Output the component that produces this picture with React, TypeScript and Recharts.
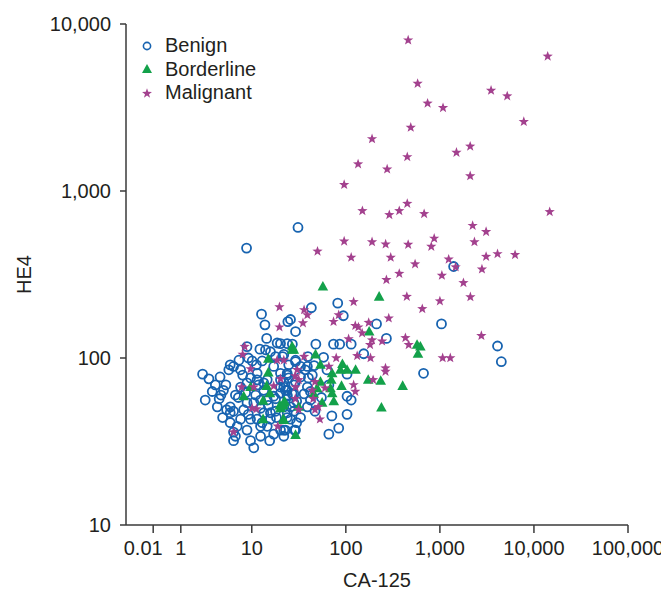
import { ScatterChart, Scatter, XAxis, YAxis, Legend } from "recharts";

// [CA-125, HE4] pairs
const benign: [number, number][] = [
  [12.7, 183], [13.8, 158], [8.9, 117], [12.2, 113], [14.4, 131], [18.6, 123], [20.2, 122], [24.2, 165],
  [25.8, 170], [29.2, 144], [23.8, 122], [7.3, 97], [6.4, 89], [10.1, 96], [12.9, 96], [15.8, 109],
  [17.9, 102], [3.0, 80], [3.5, 75], [4.6, 77], [5.9, 91], [7.6, 85], [17.1, 89], [20.2, 81],
  [23.8, 81], [29.2, 97], [5.0, 64], [4.7, 60], [4.3, 51], [4.5, 57], [5.9, 51], [6.4, 48],
  [5.9, 47], [7.6, 67], [8.9, 71], [11.4, 74], [14.6, 74], [20.2, 74], [21.9, 67], [7.0, 39],
  [8.9, 37], [9.7, 32], [10.5, 29], [6.4, 36], [6.4, 32], [6.7, 34], [12.4, 39], [14.6, 39],
  [17.1, 35], [20.2, 37], [23.8, 47], [28, 48], [25.8, 51], [5.9, 41], [9.7, 43], [11.4, 43],
  [13.4, 47], [15.8, 47], [17.9, 48], [8.2, 49], [8.9, 54], [10.5, 54], [12.4, 56], [14.6, 56],
  [17.1, 59], [20.2, 61.5], [23.8, 64], [28, 61], [23.8, 59], [28, 54], [22.8, 37], [29.2, 37],
  [11.4, 81], [11.8, 69],
  [82, 213], [94, 179], [43, 200], [212, 160], [270, 131], [114, 121], [74, 121], [86, 121],
  [48, 121], [27, 121], [155, 106], [1040, 160], [670, 81], [1400, 353], [103, 80], [58, 101],
  [39.5, 102], [29.2, 95], [39, 89], [46, 90], [63, 85], [40, 76], [44, 79], [23.8, 79],
  [24.7, 76], [66, 69], [103, 59], [114, 56], [55, 58], [42, 63], [103, 46], [71, 45],
  [84, 38], [66, 35], [30, 41], [28.5, 37], [21.9, 51], [20.2, 67], [22.8, 64], [26.9, 61],
  [4100, 118], [4500, 95],
  [21.3, 102], [33, 89], [37, 85], [29.2, 72], [33, 77], [21.9, 72], [28, 69], [23.8, 60],
  [36, 61], [39, 67], [30, 55], [39, 51], [23.8, 44], [33, 44], [21.9, 37], [21.9, 34],
  [47, 48], [42, 56], [12.4, 34],
  [8.6, 62], [11.0, 60], [9.7, 76], [13.4, 64], [15.0, 52], [9.2, 46], [7.2, 58], [5.3, 69],
  [3.8, 63], [3.2, 56], [4.9, 44], [7.6, 43], [12.9, 41], [15.8, 43], [18.3, 44],
  [11.2, 91], [9.2, 100], [14, 112], [21.9, 105], [24.7, 91], [13.4, 71], [8.0, 79], [6.7, 60],
  [5.4, 49], [12.4, 50], [17.9, 57], [25.8, 43], [15.5, 32], [4.1, 69], [5.7, 85],
  [8.8, 455], [31, 605],
];

const borderline: [number, number][] = [
  [15.0, 99], [26.9, 112], [15.0, 82], [9.7, 67], [14.4, 68], [15.6, 61.5], [8.2, 59], [13.2, 55.5],
  [19.9, 52], [21.9, 54], [20.2, 50], [13.2, 43], [21.6, 43], [29.2, 34.6], [31.6, 51],
  [57, 268], [226, 233], [177, 144], [572, 120], [620, 117], [585, 106], [26.9, 117], [28, 112],
  [47.6, 105], [92, 92], [103, 85], [87.6, 85], [127, 85], [71.5, 81], [53.7, 91], [90, 68],
  [68.6, 66], [71.5, 61.5], [173, 74], [235, 73], [402, 68], [239, 50.5], [74.4, 55], [56, 54],
  [45.6, 61], [22.3, 55], [21.6, 52], [21.9, 42.6], [49.6, 66], [53.7, 72], [70, 74],
];

const malignant: [number, number][] = [
  [460, 8000], [14000, 6400], [580, 4400], [3500, 4000], [5200, 3700], [740, 3350], [1080, 3150],
  [7800, 2600], [490, 2400], [190, 2050], [1500, 1700], [2100, 1850], [450, 1600], [135, 1450],
  [275, 1350], [2100, 1230], [96, 1090], [150, 760], [290, 720], [370, 760], [450, 840], [680, 730],
  [14700, 750], [2230, 620], [3100, 570], [96, 500], [190, 495], [265, 480], [460, 478], [870, 520],
  [810, 465], [2330, 495], [50, 435], [114, 400], [300, 400], [545, 365], [1240, 390], [3100, 405],
  [4100, 420], [6300, 415], [1470, 350], [2800, 340],
  [370, 320], [270, 294], [1050, 312], [445, 233], [121, 217], [1000, 219], [650, 197], [286, 173],
  [36, 194], [39, 181], [35, 162], [74, 165], [84, 181], [126, 156], [136, 153], [175, 163],
  [149, 141], [190, 128], [243, 126], [181, 120], [107, 130], [430, 132], [466, 120], [132, 103],
  [183, 100], [79, 100], [66, 89], [264, 87], [264, 83], [1070, 100], [1290, 100], [195, 74],
  [121, 69], [126, 63], [44, 64], [47, 72], [60, 66], [45, 57], [51, 51], [47, 49],
  [53, 43], [31.5, 49], [29, 57], [36, 102], [29, 78],
  [1780, 282], [2110, 232], [2760, 136],
  [19.7, 202], [19.7, 153], [8.4, 117], [8.0, 105], [9.7, 86], [18.6, 97], [21.9, 97], [7.8, 67],
  [10.5, 67], [17.1, 68], [20.2, 75], [29.2, 67], [10.1, 50], [11.2, 49.5], [18.9, 39], [6.4, 36],
  [30.4, 85], [31.6, 74],
];

// the printed axis is not a clean log axis at its left end, so labels sit on these positions
const caTicks = [0.895, 1.76, 10, 100, 1000, 10000, 100000];
const caTickLabels = ["0.01", "1", "10", "100", "1,000", "10,000", "100,000"];
const he4Ticks = [10, 100, 1000, 10000];
const he4TickLabels = ["10", "100", "1,000", "10,000"];

const seriesNames = ["Benign", "Borderline", "Malignant"];

const BLUE = "#1763b0";
const GREEN = "#13a14a";
const PURPLE = "#a3418e";
const INK = "#231f20";
const AXIS = "#3a3a3a";
const FONT = "'Liberation Sans', Arial, sans-serif";

const toPoints = (arr: [number, number][]) => arr.map(([ca, he]) => ({ ca, he }));

const starPath = (cx: number, cy: number, ro: number, ri: number) => {
  let d = "";
  for (let i = 0; i < 10; i++) {
    const r = i % 2 === 0 ? ro : ri;
    const a = (-90 + i * 36) * (Math.PI / 180);
    d += (i === 0 ? "M" : "L") + (cx + r * Math.cos(a)).toFixed(2) + "," + (cy + r * Math.sin(a)).toFixed(2);
  }
  return d + "Z";
};

const CircleMark = (p: any) => (
  <circle cx={p.cx} cy={p.cy} r={4.5} fill="none" stroke={BLUE} strokeWidth={1.8} />
);
const TriangleMark = (p: any) => (
  <path d={`M${p.cx},${p.cy - 5.6}L${p.cx + 5.3},${p.cy + 4}L${p.cx - 5.3},${p.cy + 4}Z`} fill={GREEN} />
);
const StarMark = (p: any) => <path d={starPath(p.cx, p.cy, 5.4, 2.2)} fill={PURPLE} />;

const LegendIcon = ({ i }: { i: number }) => (
  <svg width={14} height={14} style={{ display: "block" }}>
    {i === 0 && <circle cx={7} cy={7} r={3.6} fill="none" stroke={BLUE} strokeWidth={1.6} />}
    {i === 1 && <path d="M7,2L12,11L2,11Z" fill={GREEN} />}
    {i === 2 && <path d={starPath(7, 7.5, 5.2, 2.1)} fill={PURPLE} />}
  </svg>
);

const KeyBox = () => (
  <div style={{ fontFamily: FONT, fontSize: 20, color: INK }}>
    {seriesNames.map((name, i) => (
      <div key={name} style={{ display: "flex", alignItems: "center", height: 23.5, lineHeight: "23.5px" }}>
        <LegendIcon i={i} />
        <span style={{ marginLeft: 11 }}>{name}</span>
      </div>
    ))}
  </div>
);

const caLabel = (v: number) => {
  const i = caTicks.indexOf(v);
  return i >= 0 ? caTickLabels[i] : String(v);
};
const heLabel = (v: number) => {
  const i = he4Ticks.indexOf(v);
  return i >= 0 ? he4TickLabels[i] : String(v);
};

// "0.01" is printed a little left of its tick in the original
const CaTick = (p: any) => (
  <text
    x={p.x}
    y={p.y}
    dx={p.payload.value === caTicks[0] ? -10 : 0}
    dy="0.71em"
    textAnchor="middle"
    fill={INK}
    fontSize={20}
    fontFamily={FONT}
  >
    {caLabel(p.payload.value)}
  </text>
);

export default function App() {
  const tick = { fill: INK, fontSize: 20, fontFamily: FONT };
  return (
    <ScatterChart width={661} height={585} margin={{ top: 16, right: 41, bottom: 8, left: 0 }}>
      <XAxis
        dataKey="ca"
        type="number"
        scale="log"
        domain={[0.46, 100000]}
        allowDataOverflow
        ticks={caTicks}
        interval={0}
        tick={CaTick}
        tickSize={8}
        tickMargin={8}
        height={60}
        stroke={AXIS}
        strokeWidth={1.5}
        label={{ value: "CA-125", position: "insideBottom", offset: -2, fill: INK, fontSize: 20, fontFamily: FONT }}
      />
      <YAxis
        dataKey="he"
        type="number"
        scale="log"
        domain={[10, 10000]}
        allowDataOverflow
        ticks={he4Ticks}
        interval={0}
        tickFormatter={heLabel}
        tick={tick}
        tickSize={6}
        tickMargin={9}
        width={118}
        stroke={AXIS}
        strokeWidth={1.5}
        label={{
          value: "HE4",
          angle: -90,
          position: "insideLeft",
          offset: 16,
          fill: INK,
          fontSize: 20,
          fontFamily: FONT,
          style: { textAnchor: "middle" },
        }}
      />
      <Legend
        layout="vertical"
        align="center"
        verticalAlign="middle"
        content={() => <KeyBox />}
        wrapperStyle={{ top: 26, left: 132, width: 200, height: 72 }}
      />
      <Scatter name={seriesNames[0]} data={toPoints(benign)} shape={CircleMark} isAnimationActive={false} />
      <Scatter name={seriesNames[1]} data={toPoints(borderline)} shape={TriangleMark} isAnimationActive={false} />
      <Scatter name={seriesNames[2]} data={toPoints(malignant)} shape={StarMark} isAnimationActive={false} />
    </ScatterChart>
  );
}
